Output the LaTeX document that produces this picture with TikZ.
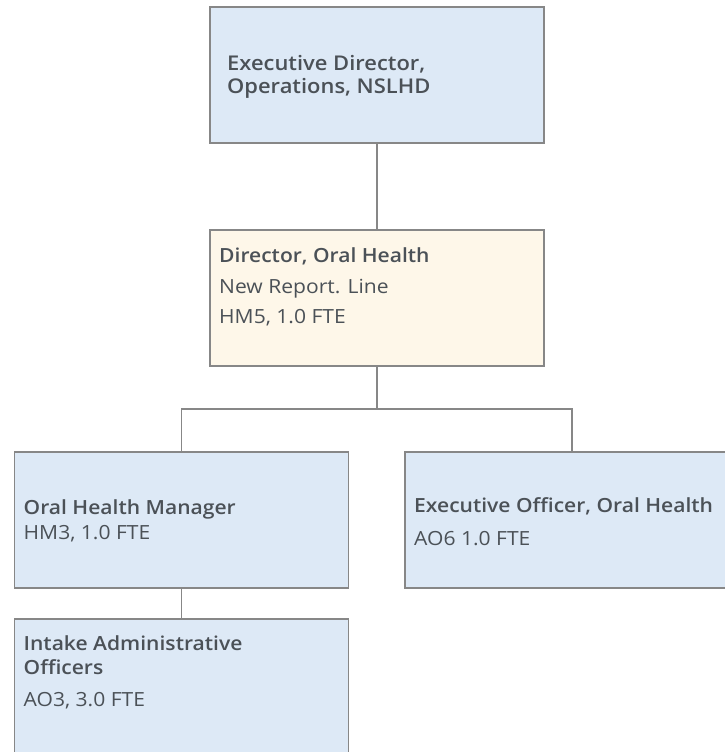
\documentclass[tikz,border=0pt]{standalone}
\usepackage{fontspec}
\IfFontExistsTF{Open Sans SemiBold}
  {\setmainfont{Open Sans}[FakeStretch=1.08, BoldFont={Open Sans SemiBold}]}
  {\IfFontExistsTF{Open Sans Semibold}
    {\setmainfont{Open Sans}[FakeStretch=1.08, BoldFont={Open Sans Semibold}]}
    {\setmainfont{Open Sans}[FakeStretch=1.08]}}
\usetikzlibrary{positioning}
\definecolor{roleblue}{HTML}{DDE9F6}
\definecolor{rolecream}{HTML}{FEF7E9}
\definecolor{rim}{HTML}{878787}
\definecolor{ink}{HTML}{4B5157}

\begin{document}
\begin{tikzpicture}[x=1pt, y=1pt,
    role/.style={draw=rim, line width=1.6pt, fill=roleblue, outer sep=0pt,
                 minimum width=334pt, minimum height=136pt, inner sep=0pt},
    roletext/.style={align=left, inner sep=0pt, text=ink,
                     font=\fontsize{19.5}{24}\selectfont},
    link/.style={draw=rim, line width=1.3pt}]
  \useasboundingbox (0,0) rectangle (725,752);
  \clip (0,0) rectangle (725,752);
  \node[role] (exec) at (377,677) {};
  \node[role, fill=rolecream, below=87pt of exec] (dir) {};
  \node[role, below=86pt of dir, xshift=-195.5pt] (ohm) {};
  \node[role, below=86pt of dir, xshift=195pt] (eo) {};
  \node[role, below=31pt of ohm] (intake) {};
  \node[roletext, font=\bfseries\fontsize{20.3}{23}\selectfont,
        below right=48pt and 17pt of exec.north west] (exec-t)
        {Executive Director,\\Operations, NSLHD};
  \node[roletext, below right=17pt and 9pt of dir.north west] (dir-t)
        {\textbf{Director, Oral Health}\\[7pt]New Report. Line\\[6pt]HM5, 1.0 FTE};
  \node[roletext, below right=47pt and 9pt of ohm.north west] (ohm-t)
        {\textbf{Oral Health Manager}\\[1pt]HM3, 1.0 FTE};
  \node[roletext, below right=45pt and 9pt of eo.north west] (eo-t)
        {\textbf{Executive Officer, Oral Health}\\[9pt]AO6 1.0 FTE};
  \node[roletext, below right=16pt and 9pt of intake.north west] (intake-t)
        {\textbf{Intake Administrative}\\\textbf{Officers}\\[8pt]AO3, 3.0 FTE};
  \coordinate[below=43pt of dir] (split);
  \draw[link] (exec) -- (dir);
  \draw[link] (dir) -- (split);
  \draw[link] (ohm) |- (split) -| (eo);
  \draw[link] (ohm) -- (intake);
\end{tikzpicture}
\end{document}
